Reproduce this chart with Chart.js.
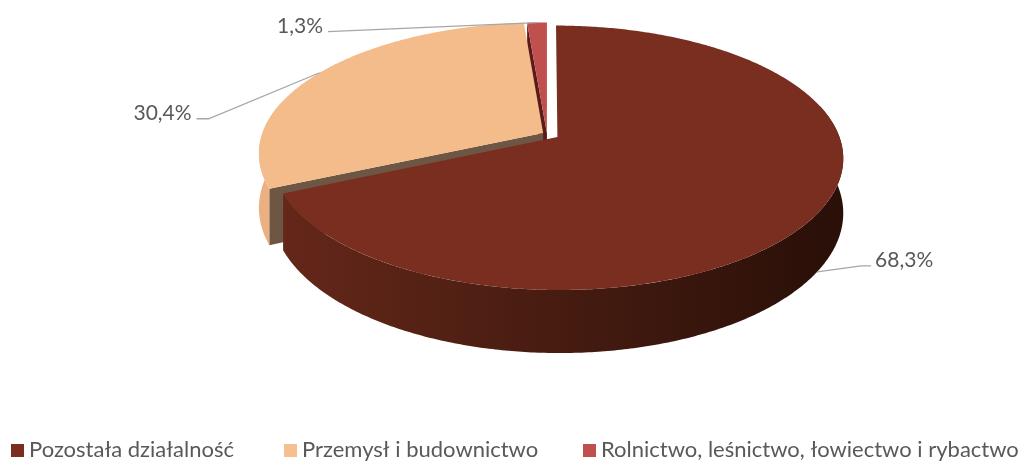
<!DOCTYPE html>
<html>
<head>
<meta charset="utf-8">
<script src="https://cdn.jsdelivr.net/npm/chart.js@4.4.1/dist/chart.umd.min.js"></script>
<style>
  html, body { margin: 0; padding: 0; background: #fff; }
</style>
</head>
<body>
<canvas id="pie" width="1025" height="462"></canvas>
<script>
// data
const categories = ['Pozostała działalność', 'Przemysł i budownictwo', 'Rolnictwo, leśnictwo, łowiectwo i rybactwo'];
const shares = [68.3, 30.4, 1.3];

// styles
const topColors = ['#7A2E20', '#F4BC8B', '#C0504D'];
const cutColors = ['#4A1A12', '#6E5644', '#5A1C1A'];
const wallColors = [['#66281A', '#2A1008'], ['#EBB081', '#EBB081'], ['#8E3A37', '#8E3A37']];
const explode = [0.044, 0.016, 0.008];
const legendX = [11, 284, 583];
const leaderOffsets = [[44, -6, 10], [-111, 46, -12], [-209, 9, 0]];

const VIEW = { cx: 547, cy: 134, rx: 281, ry: 128, persp: 0.156, depth: 53 };
const FONT = 'Lato, sans-serif';
const TEXT_COLOR = '#595959';

function project(u, v, z) {
    const s = 1 / (1 - VIEW.persp * v);
    return [VIEW.cx + u * VIEW.rx * s, VIEW.cy + (v * VIEW.ry + z * VIEW.depth) * s];
}

function rim(s, a, z) {
    return project(s.ou + Math.cos(a), s.ov + Math.sin(a), z);
}

function arcPoints(s, from, to, z) {
    const n = Math.max(2, Math.ceil(Math.abs(to - from) / 0.01));
    const pts = [];
    for (let k = 0; k <= n; k++) pts.push(rim(s, from + (to - from) * k / n, z));
    return pts;
}

function fillPoly(ctx, pts, style) {
    ctx.beginPath();
    ctx.moveTo(pts[0][0], pts[0][1]);
    pts.slice(1).forEach(p => ctx.lineTo(p[0], p[1]));
    ctx.closePath();
    ctx.fillStyle = style;
    ctx.fill();
}

function drawSides(ctx, s) {
    // radial cut faces, only those turned toward the viewer
    const edges = [
        { a: s.a0, nv: -Math.cos(s.a0) },
        { a: s.a1, nv: Math.cos(s.a1) }
    ];
    edges.forEach(e => {
        if (e.nv <= 0.01) return;
        fillPoly(ctx, [project(s.ou, s.ov, 0), rim(s, e.a, 0), rim(s, e.a, 1), project(s.ou, s.ov, 1)], cutColors[s.i]);
    });

    // outer wall, front half only
    const grad = ctx.createLinearGradient(VIEW.cx - VIEW.rx, 0, VIEW.cx + VIEW.rx, 0);
    grad.addColorStop(0, wallColors[s.i][0]);
    grad.addColorStop(1, wallColors[s.i][1]);
    for (let k = -1; k <= 2; k++) {
        const lo = Math.max(s.a0, 2 * Math.PI * k - 0.25);
        const hi = Math.min(s.a1, 2 * Math.PI * k + Math.PI + 0.25);
        if (hi <= lo) continue;
        const top = arcPoints(s, lo, hi, 0);
        const bottom = arcPoints(s, hi, lo, 1);
        fillPoly(ctx, top.concat(bottom), grad);
    }
}

function drawTop(ctx, s, color) {
    const pts = [project(s.ou, s.ov, 0)].concat(arcPoints(s, s.a0, s.a1, 0));
    fillPoly(ctx, pts, color);
}

function drawLabel(ctx, s, text) {
    const front = Math.sin(s.am) > 0;
    const a = rim(s, s.am, front ? 1 : 0);
    const off = leaderOffsets[s.i];
    const elbow = [a[0] + off[0], a[1] + off[1]];
    const end = [elbow[0] + off[2], elbow[1]];
    ctx.beginPath();
    ctx.moveTo(a[0], a[1]);
    ctx.lineTo(elbow[0], elbow[1]);
    ctx.lineTo(end[0], end[1]);
    ctx.strokeStyle = '#A6A6A6';
    ctx.lineWidth = 1.3;
    ctx.stroke();
    const right = off[0] > 0;
    ctx.font = '21px ' + FONT;
    ctx.fillStyle = TEXT_COLOR;
    ctx.textAlign = right ? 'left' : 'right';
    ctx.textBaseline = 'alphabetic';
    ctx.fillText(text, end[0] + (right ? 4 : -5), end[1] + 1);
}

const pie3d = {
    id: 'pie3d',
    beforeDatasetsDraw(chart) {
        const ctx = chart.ctx;
        const arcs = chart.getDatasetMeta(0).data;
        const slices = arcs.map((arc, i) => {
            const am = (arc.startAngle + arc.endAngle) / 2;
            return {
                i, am,
                a0: arc.startAngle,
                a1: arc.endAngle,
                ou: Math.cos(am) * explode[i],
                ov: Math.sin(am) * explode[i],
                color: arc.options.backgroundColor
            };
        });
        // back to front
        const order = slices.slice().sort((p, q) => Math.sin(p.am) - Math.sin(q.am));
        ctx.save();
        order.forEach(s => drawSides(ctx, s));
        order.forEach(s => drawTop(ctx, s, s.color));
        order.forEach(s => drawLabel(ctx, s, shares[s.i].toFixed(1).replace('.', ',') + '%'));
        ctx.restore();
        return false;
    },
    afterDraw(chart) {
        const ctx = chart.ctx;
        ctx.save();
        ctx.font = '22px ' + FONT;
        ctx.textAlign = 'left';
        ctx.textBaseline = 'alphabetic';
        chart.data.labels.forEach((name, i) => {
            ctx.fillStyle = i === 1 ? '#F8BF8E' : topColors[i];
            ctx.fillRect(legendX[i], 444, 13, 13);
            ctx.fillStyle = TEXT_COLOR;
            ctx.fillText(name, legendX[i] + 18, 457);
        });
        ctx.restore();
    }
};

new Chart(document.getElementById('pie'), {
    type: 'pie',
    data: {
        labels: categories,
        datasets: [{
            data: shares,
            backgroundColor: topColors,
            borderWidth: 0
        }]
    },
    options: {
        responsive: false,
        animation: false,
        plugins: {
            legend: { display: false },
            tooltip: { enabled: false }
        }
    },
    plugins: [pie3d]
});
</script>
</body>
</html>
